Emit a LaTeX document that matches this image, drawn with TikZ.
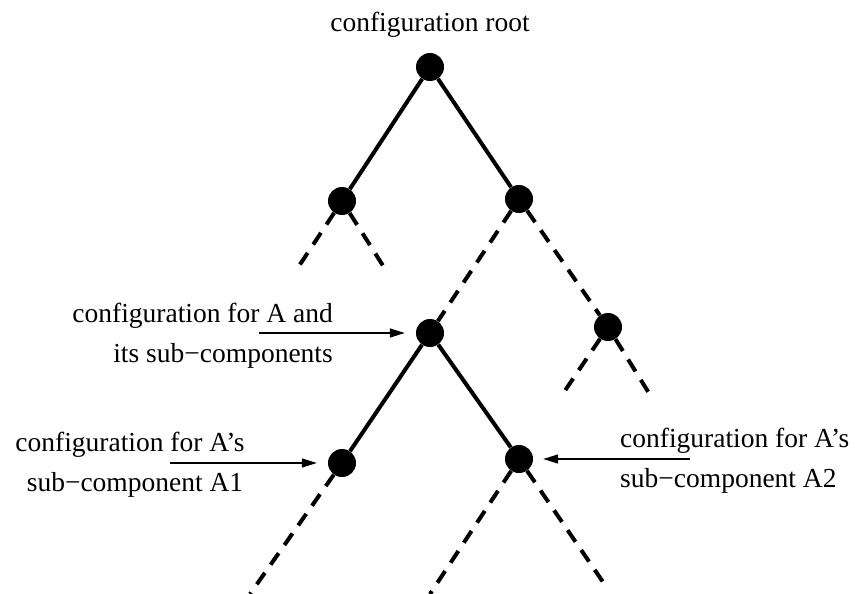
\documentclass[tikz,border=0pt]{standalone}
\usepackage{fontspec}
\setmainfont{Liberation Serif}
\usetikzlibrary{arrows.meta}
\begin{document}
\begin{tikzpicture}[x=1pt,y=-1pt,
  vertex/.style={circle,fill=black,inner sep=0pt,minimum size=28pt},
  solidedge/.style={line width=4pt},
  openedge/.style={line width=4pt,dash pattern=on 14pt off 10pt},
  pointer/.style={line width=1.5pt,-{Triangle[length=15pt,width=9pt]}},
  caption/.style={inner sep=0pt,font=\fontsize{27.5}{40}\selectfont}]
\useasboundingbox (0,0) rectangle (855,594);

% tree vertices
\node[vertex] (root) at (430,67) {};
\node[vertex] (L) at (342,201) {};
\node[vertex] (R) at (519,199) {};
\node[vertex] (A) at (430,333) {};
\node[vertex] (RR) at (608,327) {};
\node[vertex] (A1) at (342,463) {};
\node[vertex] (A2) at (519,459) {};

% loose ends of the unexplored branches
\coordinate (Ll) at (295,272);
\coordinate (Lr) at (387,272);
\coordinate (RRl) at (560,398);
\coordinate (RRr) at (652,398);
\coordinate (A1l) at (250,594);
\coordinate (A2l) at (430,594);
\coordinate (A2r) at (603,582);

% branches
\draw[solidedge] (root) -- (L);
\draw[solidedge] (root) -- (R);
\draw[solidedge] (A) -- (A1);
\draw[solidedge] (A) -- (A2);
\draw[openedge] (L) -- (Ll);
\draw[openedge] (L) -- (Lr);
\draw[openedge] (R) -- (A);
\draw[openedge] (R) -- (RR);
\draw[openedge] (RR) -- (RRl);
\draw[openedge] (RR) -- (RRr);
\draw[openedge] (A1) -- (A1l);
\draw[openedge] (A2) -- (A2l);
\draw[openedge] (A2) -- (A2r);

% captions
\node[caption,anchor=base] (troot) at (430,32) {configuration root};

\node[caption,anchor=base east] (tA1) at (333,322) {configuration for A and};
\node[caption,anchor=base east] (tA2) at (333,362) {its sub−components};

\node[caption,anchor=base] (tL1) at (130,451) {configuration for A’s};
\node[caption,anchor=base] (tL2) at (135,491) {sub−component A1};

\node[caption,anchor=base west] (tR1) at (620,447) {configuration for A’s};
\node[caption,anchor=base west] (tR2) at (620,487) {sub−component A2};

% pointers from captions to vertices
\coordinate (pA) at (259,333);
\coordinate (pA1) at (170,463);
\coordinate (pA2) at (690,459);
\draw[pointer,shorten >=11pt] (pA) -- (A);
\draw[pointer,shorten >=11pt] (pA1) -- (A1);
\draw[pointer,shorten >=10pt] (pA2) -- (A2);
\end{tikzpicture}
\end{document}
